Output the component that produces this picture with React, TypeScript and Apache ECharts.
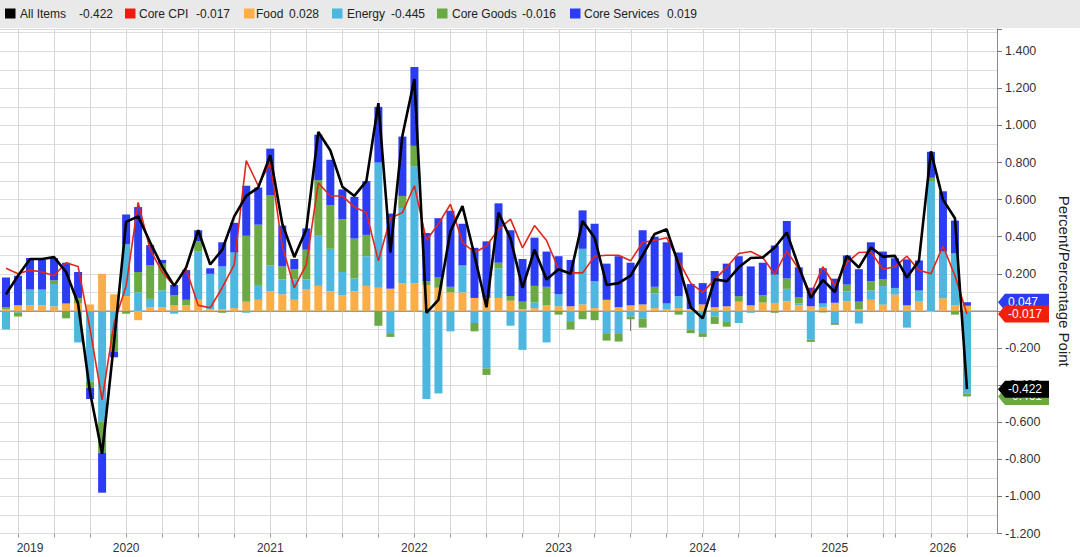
import React, { useEffect, useRef } from "react";
import * as echarts from "echarts";

// Months (Bloomberg monthly series; Oct/Nov 2025 have no m/m values) + 2 empty slots on the right
const categories = [
  "2019-08","2019-09","2019-10","2019-11","2019-12",
  "2020-01","2020-02","2020-03","2020-04","2020-05","2020-06","2020-07","2020-08","2020-09","2020-10","2020-11","2020-12",
  "2021-01","2021-02","2021-03","2021-04","2021-05","2021-06","2021-07","2021-08","2021-09","2021-10","2021-11","2021-12",
  "2022-01","2022-02","2022-03","2022-04","2022-05","2022-06","2022-07","2022-08","2022-09","2022-10","2022-11","2022-12",
  "2023-01","2023-02","2023-03","2023-04","2023-05","2023-06","2023-07","2023-08","2023-09","2023-10","2023-11","2023-12",
  "2024-01","2024-02","2024-03","2024-04","2024-05","2024-06","2024-07","2024-08","2024-09","2024-10","2024-11","2024-12",
  "2025-01","2025-02","2025-03","2025-04","2025-05","2025-06","2025-07","2025-08","2025-09","2025-12",
  "2026-01","2026-02","2026-03","2026-04","2026-05","2026-06",
  " ","  ",
];

const allItems = [
  0.09,0.19,0.28,0.28,0.29,
  0.21,0.04,-0.44,-0.77,-0.165,0.48,0.51,0.37,0.24,0.135,0.235,0.435,
  0.25,0.33,0.51,0.62,0.665,0.84,0.47,0.29,0.44,0.965,0.865,0.67,
  0.62,0.70,1.12,0.315,0.945,1.25,-0.01,0.06,0.43,0.565,0.30,0.02,
  0.53,0.39,0.125,0.33,0.17,0.225,0.2,0.485,0.395,0.14,0.15,0.19,
  0.30,0.415,0.44,0.25,0.02,-0.04,0.17,0.16,0.235,0.285,0.288,0.342,
  0.423,0.238,0.071,0.167,0.102,0.297,0.234,0.342,0.293,0.297,
  0.18,0.27,0.86,0.6,0.5,-0.422,
];

const coreCPI = [
  0.23,0.2,0.22,0.21,0.19,
  0.26,0.24,-0.1,-0.48,-0.065,0.135,0.585,0.33,0.21,0.135,0.225,0.03,
  0.017,0.125,0.25,0.81,0.675,0.80,0.35,0.125,0.25,0.69,0.62,0.62,
  0.56,0.53,0.27,0.5,0.53,0.675,0.38,0.47,0.575,0.37,0.315,0.35,
  0.44,0.495,0.34,0.46,0.38,0.225,0.205,0.205,0.295,0.3,0.3,0.27,
  0.37,0.38,0.395,0.27,0.15,0.1,0.17,0.235,0.31,0.32,0.288,0.197,
  0.324,0.225,0.089,0.238,0.137,0.261,0.315,0.318,0.225,0.238,
  0.295,0.22,0.2,0.35,0.19,-0.017,
];

const food = [
  0.01,0.03,0.03,0.03,0.025,
  0.04,0.04,0.035,0.2,0.09,0.08,-0.05,0.02,0.02,0.03,0.03,0.06,
  0.01,0.01,0.015,0.05,0.06,0.105,0.09,0.06,0.115,0.135,0.105,0.085,
  0.105,0.135,0.125,0.12,0.15,0.15,0.14,0.125,0.1,0.1,0.07,0.07,
  0.07,0.055,0.01,0.015,0.03,0.025,0.025,0.035,0.015,0.06,0.02,0.03,
  0.035,0.015,0.01,0.015,0.01,0.035,0.02,0.025,0.05,0.03,0.045,0.043,
  0.052,0.03,0.025,0.02,0.044,0.052,0.01,0.06,0.034,0.088,
  0.03,0.05,-0.005,0.068,0.03,0.028,
];

const energy = [
  -0.1,-0.01,0.085,0.085,0.12,
  0.0,-0.17,-0.38,-0.595,-0.12,0.28,0.1,0.045,0.09,-0.015,0.0,0.26,
  0.19,0.23,0.3,-0.01,0.08,0.14,0.08,0.11,0.055,0.27,0.23,0.125,
  0.07,0.16,0.675,-0.12,0.405,0.63,-0.475,-0.445,-0.11,0.145,-0.065,-0.31,
  0.16,-0.08,-0.21,0.03,-0.17,0.065,-0.055,0.3,0.145,-0.12,-0.12,-0.03,
  -0.04,0.08,0.03,0.065,-0.1,-0.12,-0.03,-0.06,-0.065,-0.01,0.0,0.153,
  0.067,0.01,-0.155,0.02,-0.065,0.054,-0.068,0.05,0.1,0.036,
  -0.09,0.06,0.7,0.252,0.28,-0.445,
];

const coreGoods = [
  0.01,-0.02,0.0,0.0,0.02,
  -0.04,0.03,-0.035,-0.17,-0.1,-0.015,0.11,0.18,0.145,0.055,0.03,0.055,
  0.0,-0.01,0.0,0.355,0.325,0.38,0.07,0.055,0.16,0.3,0.235,0.285,
  0.215,0.115,-0.08,-0.02,0.065,0.11,0.02,0.055,0.03,0.0,-0.045,-0.035,
  0.03,0.025,0.04,0.09,0.1,-0.02,-0.045,-0.045,-0.05,-0.04,-0.045,-0.015,
  -0.05,0.035,0.0,-0.02,-0.02,-0.02,-0.04,-0.025,0.03,0.0,0.04,-0.01,
  0.056,0.035,-0.012,-0.008,-0.01,0.036,0.04,0.05,0.036,0.0,
  0.0,0.0,0.018,0.0,-0.02,-0.016,
];

const coreServices = [
  0.16,0.16,0.17,0.16,0.12,
  0.22,0.14,-0.06,-0.215,-0.03,0.16,0.35,0.11,0.02,0.055,0.16,0.06,
  0.03,0.13,0.16,0.27,0.2,0.25,0.22,0.055,0.115,0.245,0.245,0.16,
  0.225,0.29,0.3,0.405,0.32,0.425,0.26,0.32,0.41,0.225,0.27,0.305,
  0.32,0.355,0.23,0.26,0.19,0.205,0.25,0.207,0.31,0.195,0.275,0.23,
  0.40,0.27,0.33,0.235,0.135,0.115,0.195,0.23,0.215,0.21,0.175,0.157,
  0.31,0.16,0.1,0.19,0.13,0.157,0.175,0.21,0.15,0.16,
  0.248,0.162,0.14,0.325,0.177,0.019,
];

// x axis structure
const yearLabelAt: Record<number, string> = { 2: "2019", 10: "2020", 22: "2021", 34: "2022", 46: "2023", 58: "2024", 69: "2025", 78: "2026" };
const yearBoundaryIdx = [4, 16, 28, 40, 52, 64, 74];
const quarterIdx = [1,4,7,10,13,16,19,22,25,28,31,34,37,40,43,46,49,52,55,58,61,64,67,70,73,74,77,80];

const COLORS = {
  all: "#000000",
  core: "#E3261B",
  coreKey: "#EE1C10",
  food: "#FBAE48",
  energy: "#4DB7DF",
  goods: "#6BA846",
  services: "#2B3CF2",
};

const FONT = "Liberation Sans, Arial, sans-serif";

function fmt(v: number) {
  return v.toFixed(3);
}

export default function App() {
  const ref = useRef<HTMLDivElement>(null);

  useEffect(() => {
    if (!ref.current) return;
    const chart = echarts.init(ref.current, undefined, { renderer: "svg" });
    const last = allItems.length - 1;

    const legendItems = [
      { name: "All Items", value: allItems[last], color: COLORS.all, sx: 5, tx: 20, vx: 79 },
      { name: "Core CPI", value: coreCPI[last], color: COLORS.coreKey, sx: 125, tx: 139, vx: 196 },
      { name: "Food", value: food[last], color: COLORS.food, sx: 244, tx: 256, vx: 289 },
      { name: "Energy", value: energy[last], color: COLORS.energy, sx: 332, tx: 347, vx: 391 },
      { name: "Core Goods", value: coreGoods[last], color: COLORS.goods, sx: 437, tx: 452, vx: 522 },
      { name: "Core Services", value: coreServices[last], color: COLORS.services, sx: 570, tx: 584, vx: 667 },
    ];

    const tags = [
      { value: energy[last] + coreGoods[last], color: COLORS.goods, text: fmt(energy[last] + coreGoods[last]) },
      { value: food[last] + coreServices[last], color: COLORS.services, text: fmt(food[last] + coreServices[last]) },
      { value: coreCPI[last], color: "#F0200C", text: fmt(coreCPI[last]) },
      { value: allItems[last], color: "#000000", text: fmt(allItems[last]) },
    ];

    const graphic: any[] = [
      { type: "rect", left: 0, top: 0, z: 100, shape: { width: 1080, height: 28 }, style: { fill: "#e9e9e9" } },
    ];
    legendItems.forEach((it) => {
      graphic.push({ type: "rect", z: 101, shape: { x: it.sx, y: 8.5, width: 10.5, height: 10 }, style: { fill: it.color } });
      graphic.push({
        type: "text", z: 101, x: it.tx, y: 14,
        style: { text: it.name, fill: "#222", font: `12px ${FONT}`, verticalAlign: "middle", align: "left" },
      });
      graphic.push({
        type: "text", z: 101, x: it.vx, y: 14,
        style: { text: fmt(it.value), fill: "#222", font: `12px ${FONT}`, verticalAlign: "middle", align: "left" },
      });
    });

    const barSeries = (name: string, data: number[], color: string) => ({
      name, type: "bar", stack: "contrib", data, barWidth: 8, z: 2,
      itemStyle: { color }, emphasis: { disabled: true }, silent: true,
    });

    chart.setOption({
      animation: false,
      backgroundColor: "#ffffff",
      graphic,
      grid: { left: 0, right: 78, top: 29, bottom: 23.5, containLabel: false },
      xAxis: [
        {
          type: "category",
          data: categories,
          boundaryGap: true,
          axisLine: { show: true, lineStyle: { color: "#9a9a9a", width: 1 } },
          axisTick: {
            show: true, alignWithLabel: true, length: 20,
            interval: (i: number) => yearBoundaryIdx.indexOf(i) >= 0,
            lineStyle: { color: "#777" },
          },
          axisLabel: {
            show: true, interval: (i: number) => yearLabelAt[i] !== undefined,
            formatter: (_v: string, i: number) => yearLabelAt[i] || "",
            color: "#333", fontSize: 12, fontFamily: FONT, margin: 8,
          },
          splitLine: { show: false },
        },
        {
          type: "category",
          data: categories,
          position: "bottom",
          boundaryGap: true,
          axisLine: { show: false },
          axisTick: {
            show: true, alignWithLabel: true, length: 4,
            interval: (i: number) => quarterIdx.indexOf(i) >= 0,
            lineStyle: { color: "#999" },
          },
          axisLabel: { show: false },
          splitLine: { show: false },
        },
      ],
      yAxis: {
        type: "value",
        position: "right",
        min: -1.2,
        max: 1.52,
        interval: 0.2,
        name: "Percent/Percentage Point",
        nameLocation: "middle",
        nameRotate: -90,
        nameGap: 60,
        nameTextStyle: { color: "#222", fontSize: 15, fontFamily: FONT },
        axisLine: { show: true, lineStyle: { color: "#8a8a8a" } },
        axisTick: { show: true, length: 5, lineStyle: { color: "#777" } },
        axisLabel: {
          color: "#333", fontSize: 12.5, fontFamily: FONT, margin: 8,
          formatter: (v: number) => {
            const r = Math.round(v * 10);
            if (Math.abs(v * 10 - r) > 1e-6 || r % 2 !== 0) return "";
            return v.toFixed(3);
          },
        },
        splitLine: { show: true, lineStyle: { color: "#dcdcdc", width: 1 } },
        minorTick: { show: false, splitNumber: 2 },
        minorSplitLine: { show: true, lineStyle: { color: "#dcdcdc", width: 1 } },
      },
      series: [
        {
          name: "vgrid", type: "custom", z: 1, silent: true,
          data: quarterIdx.map((i) => [i, 0]),
          renderItem: (params: any, api: any) => {
            const cs = params.coordSys;
            const x = Math.round(api.coord([api.value(0), 0])[0]) + 0.5;
            return { type: "line", shape: { x1: x, y1: cs.y, x2: x, y2: cs.y + cs.height }, style: { stroke: "#d6d6d6", lineWidth: 1 } };
          },
        },
        {
          name: "zero", type: "custom", z: 1, silent: true,
          data: [[0, 0]],
          renderItem: (params: any, api: any) => {
            const cs = params.coordSys;
            const y = api.coord([0, 0])[1];
            return { type: "line", shape: { x1: cs.x, y1: y, x2: cs.x + cs.width, y2: y }, style: { stroke: "#9a9a9a", lineWidth: 1 } };
          },
        },
        barSeries("Food", food, COLORS.food),
        barSeries("Energy", energy, COLORS.energy),
        barSeries("Core Goods", coreGoods, COLORS.goods),
        barSeries("Core Services", coreServices, COLORS.services),
        {
          name: "Core CPI", type: "line", data: coreCPI, z: 3, symbol: "none", silent: true,
          lineStyle: { color: COLORS.core, width: 1.6 },
        },
        {
          name: "All Items", type: "line", data: allItems, z: 4, symbol: "none", silent: true,
          lineStyle: { color: COLORS.all, width: 2.6 },
        },
        {
          name: "tags", type: "custom", z: 10, silent: true, clip: false,
          data: tags.map((t) => [last, t.value]),
          renderItem: (params: any, api: any) => {
            const t = tags[params.dataIndex];
            const cs = params.coordSys;
            const x0 = cs.x + cs.width;
            const y = api.coord([last, t.value])[1];
            const h = 8.5;
            return {
              type: "group",
              children: [
                {
                  type: "polygon",
                  shape: { points: [[x0 + 1, y], [x0 + 8, y - h], [x0 + 52, y - h], [x0 + 52, y + h], [x0 + 8, y + h]] },
                  style: { fill: t.color },
                },
                {
                  type: "text",
                  x: x0 + 11, y: y,
                  style: { text: t.text, fill: "#ffffff", font: `12px ${FONT}`, align: "left", verticalAlign: "middle" },
                },
              ],
            };
          },
        },
      ],
    });

    return () => chart.dispose();
  }, []);

  return (
    <div
      ref={ref}
      style={{ position: "absolute", left: 0, top: 0, width: 1080, height: 557, background: "#fff" }}
    />
  );
}
